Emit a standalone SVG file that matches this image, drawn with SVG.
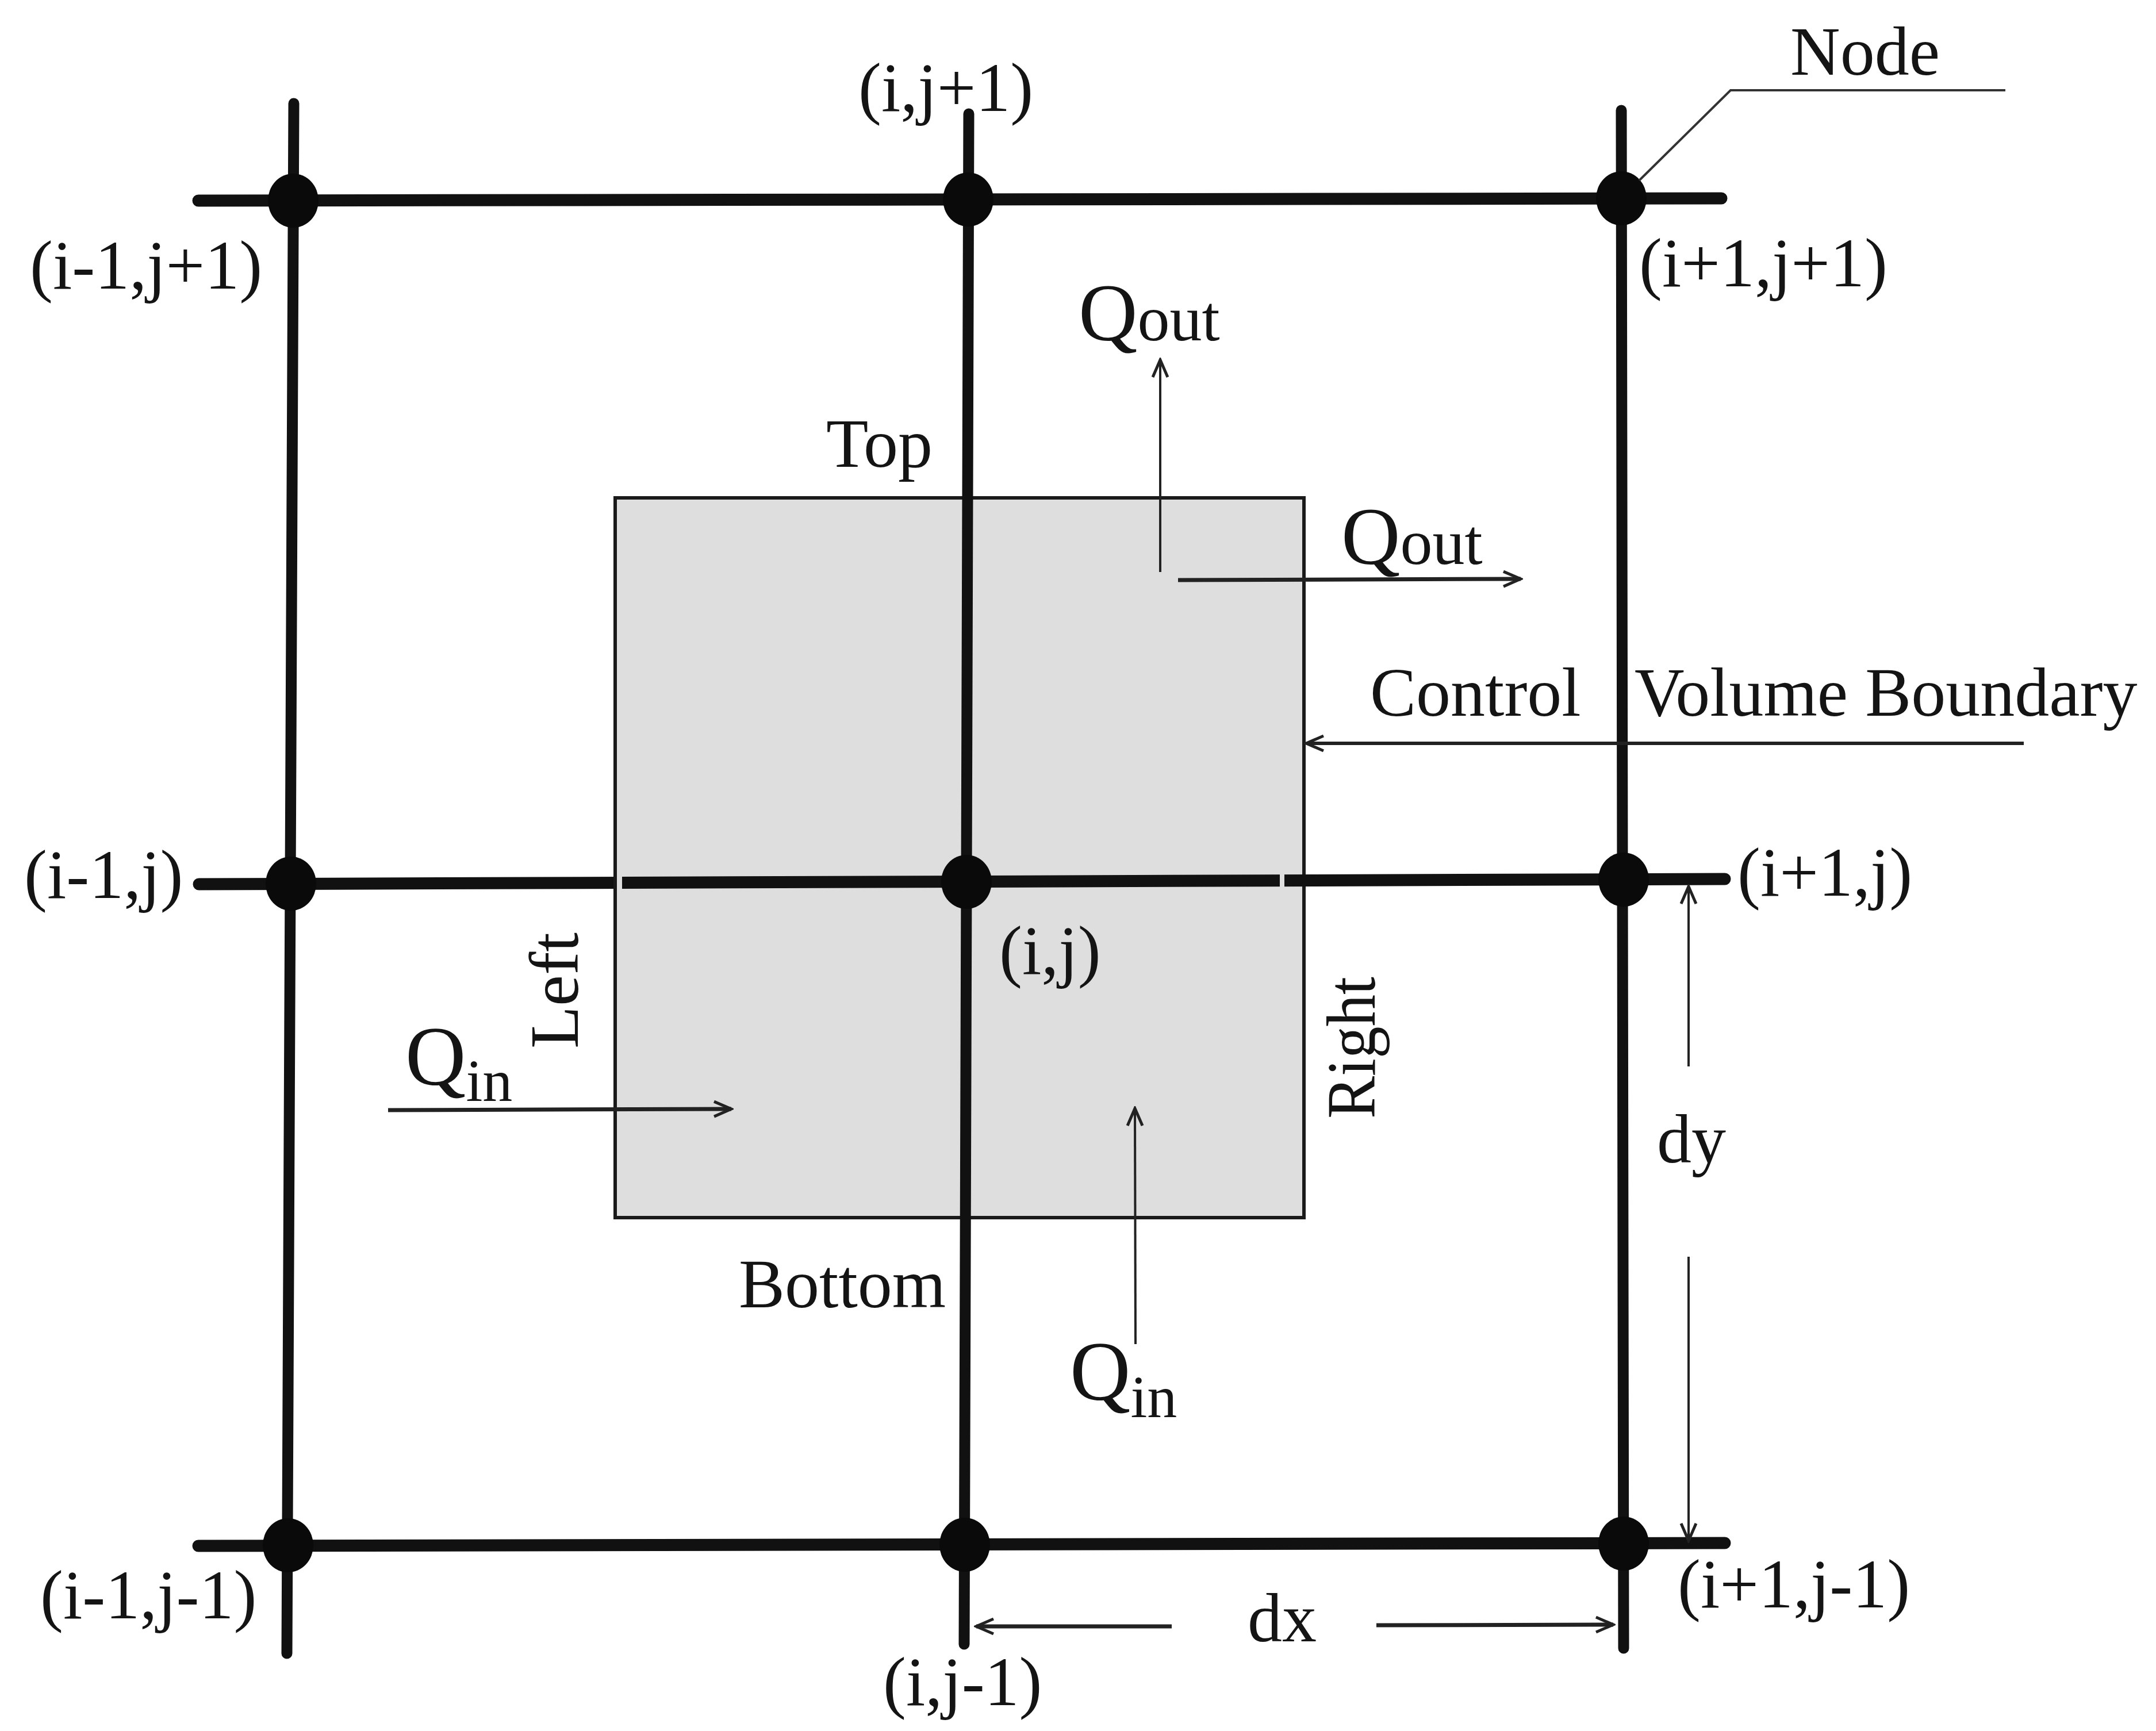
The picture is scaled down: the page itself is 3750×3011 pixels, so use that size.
<svg xmlns="http://www.w3.org/2000/svg" width="3750" height="3011" viewBox="0 0 3750 3011">
<style>
text{font-family:"Liberation Serif","Times New Roman",serif;fill:#141414;font-size:120px}
.grid{stroke:#111;stroke-linecap:round;fill:none}
.gv{stroke-width:19}
.gh{stroke-width:21}
.arr{stroke:#222;fill:none}
.node{fill:#0a0a0a}
</style>
<defs>
<marker id="ah" viewBox="-40 -20 44 40" refX="0" refY="0" markerWidth="44" markerHeight="40" markerUnits="userSpaceOnUse" orient="auto">
<path d="M-30,-13 L0,0 L-30,13" fill="none" stroke="#222" stroke-width="5"/>
</marker>
</defs>
<rect width="3750" height="3011" fill="#ffffff"/>

<g id="control-volume">
<rect x="1070" y="866" width="1198" height="1252" fill="#dedede" stroke="#1a1a1a" stroke-width="6"/>
</g>

<g id="grid-lines">
<line class="grid gv" x1="511" y1="180" x2="499" y2="2876"/>
<line class="grid gv" x1="1685" y1="198" x2="1677" y2="2860"/>
<line class="grid gv" x1="2820" y1="192" x2="2824" y2="2867"/>
<line class="grid gh" x1="345" y1="349" x2="2994" y2="345"/>
<line class="grid gh" x1="346" y1="1538" x2="3000" y2="1529"/>
<line class="grid gh" x1="345" y1="2689" x2="3000" y2="2684"/>
<line x1="1077" y1="1520" x2="1077" y2="1556" stroke="#dedede" stroke-width="10"/>
<line x1="1070" y1="1520" x2="1070" y2="1556" stroke="#1a1a1a" stroke-width="6"/>
<line x1="2230" y1="1512" x2="2230" y2="1550" stroke="#dedede" stroke-width="8"/>
</g>

<g id="nodes">
<g id="n-im1-jp1"><ellipse class="node" cx="510" cy="349" rx="44" ry="47"/><text x="52" y="502">(i-1,j+1)</text></g>
<g id="n-i-jp1"><ellipse class="node" cx="1684" cy="347" rx="44" ry="47"/><text x="1493" y="193">(i,j+1)</text></g>
<g id="n-ip1-jp1"><ellipse class="node" cx="2820" cy="345" rx="44" ry="47"/><text x="2851" y="498">(i+1,j+1)</text></g>
<g id="n-im1-j"><ellipse class="node" cx="506" cy="1537" rx="44" ry="47"/><text x="42" y="1562">(i-1,j)</text></g>
<g id="n-i-j"><ellipse class="node" cx="1681" cy="1534" rx="44" ry="47"/><text x="1738" y="1694">(i,j)</text></g>
<g id="n-ip1-j"><ellipse class="node" cx="2824" cy="1530" rx="44" ry="47"/><text x="3022" y="1558">(i+1,j)</text></g>
<g id="n-im1-jm1"><ellipse class="node" cx="501" cy="2688" rx="44" ry="47"/><text x="70" y="2815">(i-1,j-1)</text></g>
<g id="n-i-jm1"><ellipse class="node" cx="1678" cy="2687" rx="44" ry="47"/><text x="1536" y="2966">(i,j-1)</text></g>
<g id="n-ip1-jm1"><ellipse class="node" cx="2824" cy="2685" rx="44" ry="47"/><text x="2918" y="2796">(i+1,j-1)</text></g>
</g>

<g id="labels">
<text x="3114" y="130">Node</text>
<text x="1437" y="812">Top</text>
<text x="1285" y="2274">Bottom</text>
<text transform="translate(1005,1824) rotate(-90)" textLength="202" lengthAdjust="spacingAndGlyphs">Left</text>
<text transform="translate(2391,1946) rotate(-90)" textLength="247" lengthAdjust="spacingAndGlyphs">Right</text>
<text x="2383" y="1245">Control<tspan x="2843">Volume Boundary</tspan></text>
<text x="1876" y="592"><tspan font-size="142">Q</tspan><tspan font-size="112">out</tspan></text>
<text x="2333" y="981"><tspan font-size="142">Q</tspan><tspan font-size="112">out</tspan></text>
<text x="705" y="1887"><tspan font-size="146">Q</tspan><tspan font-size="104" dy="28">in</tspan></text>
<text x="1861" y="2435"><tspan font-size="146">Q</tspan><tspan font-size="104" dy="30">in</tspan></text>
<text x="2882" y="2022">dy</text>
<text x="2170" y="2855">dx</text>
</g>

<g id="connectors">
<polyline points="2851,314 3010,157 3488,157" fill="none" stroke="#333" stroke-width="4"/>
<line class="arr" x1="2018" y1="995" x2="2018" y2="626" stroke-width="4" marker-end="url(#ah)"/>
<line class="arr" x1="2049" y1="1009" x2="2645" y2="1007" stroke-width="7" marker-end="url(#ah)"/>
<line class="arr" x1="3520" y1="1293" x2="2272" y2="1293" stroke-width="6" marker-end="url(#ah)"/>
<line class="arr" x1="675" y1="1931" x2="1272" y2="1929" stroke-width="7" marker-end="url(#ah)"/>
<line class="arr" x1="1975" y1="2338" x2="1974" y2="1928" stroke-width="4" marker-end="url(#ah)"/>
<line class="arr" x1="2937" y1="1855" x2="2937" y2="1542" stroke-width="4" marker-end="url(#ah)"/>
<line class="arr" x1="2937" y1="2186" x2="2937" y2="2680" stroke-width="4" marker-end="url(#ah)"/>
<line class="arr" x1="2038" y1="2829" x2="1698" y2="2829" stroke-width="7" marker-end="url(#ah)"/>
<line class="arr" x1="2394" y1="2827" x2="2806" y2="2826" stroke-width="7" marker-end="url(#ah)"/>
</g>
</svg>
